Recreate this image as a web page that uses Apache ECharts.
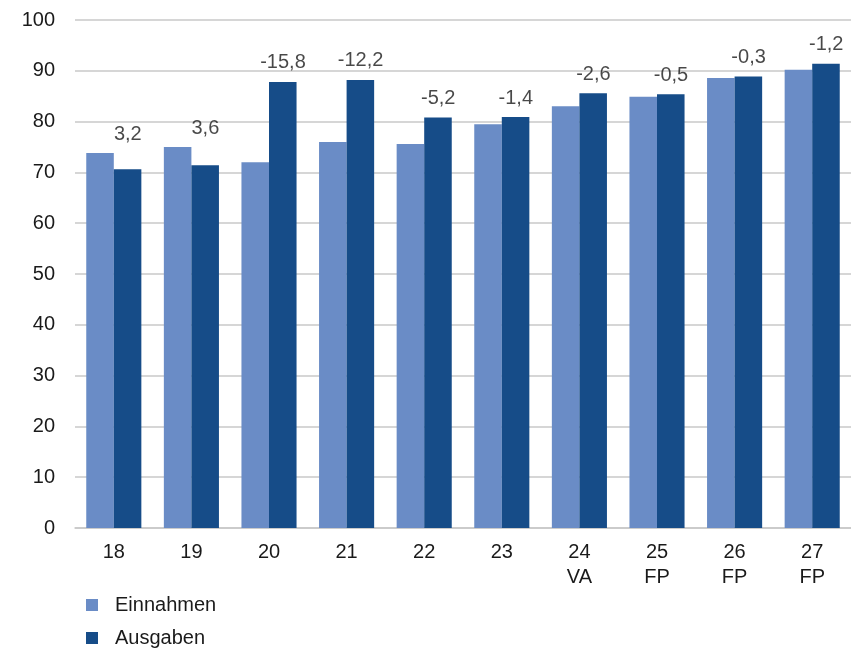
<!DOCTYPE html>
<html>
<head>
<meta charset="utf-8">
<script src="https://cdn.jsdelivr.net/npm/echarts@6/dist/echarts.min.js"></script>
<style>
  html, body { margin: 0; padding: 0; background: #fff; }
  #main { width: 851px; height: 650px; }
</style>
</head>
<body>
<div id="main"></div>
<script>
// Jahre (mit Zusatz VA / FP)
var jahre = ["18", "19", "20", "21", "22", "23", "24\nVA", "25\nFP", "26\nFP", "27\nFP"];
var einnahmen = [73.8, 75.0, 72.0, 76.0, 75.6, 79.5, 83.0, 84.9, 88.6, 90.2];
var ausgaben = [70.6, 71.4, 87.8, 88.2, 80.8, 80.9, 85.6, 85.4, 88.9, 91.4];
// Saldo-Beschriftung über den Balken
var saldo = ["3,2", "3,6", "-15,8", "-12,2", "-5,2", "-1,4", "-2,6", "-0,5", "-0,3", "-1,2"];

var font = "Liberation Sans, Arial, sans-serif";
var textColor = "#1a1a1a";

// Label sitzt über dem höheren Balken
var labelPunkte = [];
for (var i = 0; i < jahre.length; i++) {
  labelPunkte.push({ value: [i, Math.max(einnahmen[i], ausgaben[i])], label: { formatter: saldo[i] } });
}

var chart = echarts.init(document.getElementById("main"));
chart.setOption({
  animation: false,
  textStyle: { fontFamily: font },
  grid: { left: 75, right: 0, top: 20, bottom: 122 },
  legend: {
    orient: "vertical",
    left: 86,
    top: 595,
    padding: 0,
    icon: "rect",
    itemWidth: 12,
    itemHeight: 12,
    itemGap: 13,
    data: ["Einnahmen", "Ausgaben"],
    textStyle: { fontSize: 20, color: textColor, padding: [0, 0, 0, 12], fontFamily: font }
  },
  xAxis: {
    type: "category",
    data: jahre,
    axisLine: { show: true, lineStyle: { color: "#c8c8c8", width: 1.5 } },
    axisTick: { show: false },
    axisLabel: { fontSize: 20, color: textColor, margin: 12, lineHeight: 25, fontFamily: font }
  },
  yAxis: {
    type: "value",
    min: 0,
    max: 100,
    interval: 10,
    axisLine: { show: false },
    axisTick: { show: false },
    splitLine: { lineStyle: { color: "#c8c8c8", width: 1.5 } },
    axisLabel: { fontSize: 20, color: textColor, margin: 20, fontFamily: font }
  },
  series: [
    {
      name: "Einnahmen",
      type: "bar",
      data: einnahmen,
      barGap: "0%",
      barCategoryGap: "29%",
      itemStyle: { color: "#6a8cc6" }
    },
    {
      name: "Ausgaben",
      type: "bar",
      data: ausgaben,
      itemStyle: { color: "#164c88" }
    },
    {
      name: "Saldo",
      type: "scatter",
      data: labelPunkte,
      symbolSize: 0,
      silent: true,
      label: {
        show: true,
        position: "top",
        distance: 9,
        offset: [14, 0],
        fontSize: 20,
        color: textColor,
        fontFamily: font
      }
    }
  ]
});
</script>
</body>
</html>
